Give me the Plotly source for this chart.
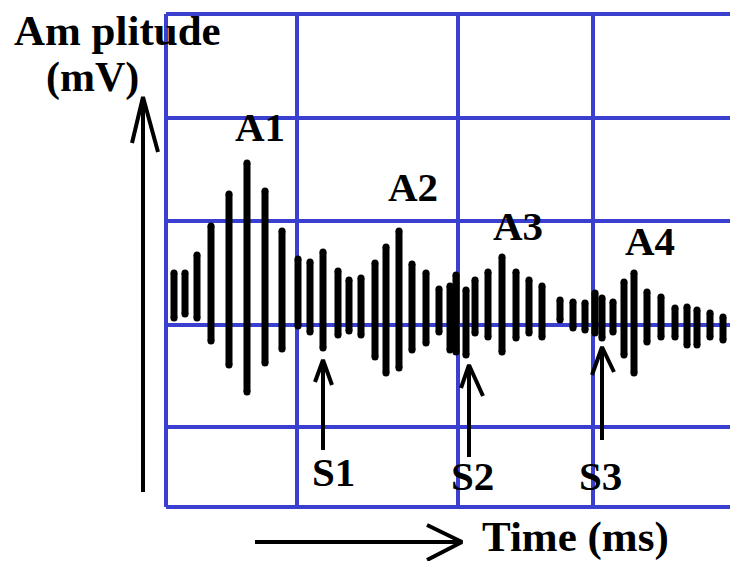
import plotly.graph_objects as go

# ---- data (time in ms, amplitude in mV; arbitrary diagram units) ----
bar_time = [1.6, 3.8, 6.2, 9.0, 12.6, 16.2, 19.8, 23.2, 26.4, 28.8,
            31.4, 34.4, 36.6, 39.0, 41.8, 44.0, 46.6, 49.2, 52.0, 54.6,
            56.8, 58.0, 60.0, 61.8, 64.4, 67.2, 70.0, 72.6, 75.2, 78.8,
            81.4, 83.8, 85.8, 87.2, 89.4, 91.6, 93.6, 96.2, 99.0, 101.8,
            104.2, 106.2, 108.8, 111.4]
bar_top = [10.4, 10.4, 14.0, 19.8, 26.2, 32.4, 26.8, 18.8, 13.2, 12.6,
           14.6, 10.8, 9.0, 9.4, 12.4, 15.6, 18.8, 12.2, 10.4, 7.2,
           7.8, 10.0, 7.0, 9.0, 10.6, 13.6, 10.6, 9.0, 7.8, 5.0,
           4.6, 4.4, 6.4, 5.4, 4.6, 8.6, 10.4, 6.6, 5.6, 3.4,
           3.6, 3.0, 2.4, 1.6]
bar_bottom = [1.4, 2.2, 1.4, -3.2, -8.0, -13.4, -7.6, -4.8, -0.2, -1.4,
              -4.6, -2.0, -1.2, -2.0, -6.4, -9.6, -8.6, -5.0, -3.6, -1.4,
              -5.0, -5.4, -6.0, -1.6, -2.4, -5.4, -2.6, -1.6, -2.4, 1.0,
              -0.6, -1.0, -1.6, -2.6, -1.4, -6.0, -9.6, -3.4, -2.4, -2.4,
              -4.0, -4.0, -2.4, -3.0]

grid_time = [0.0, 26.2, 58.4, 85.4]
grid_amp = [62.2, 41.4, 20.8, 0.0, -20.4, -36.4]
grid_time_end = 113.0

peak_labels = ["A1", "A2", "A3", "A4"]
peak_time = [18.8, 49.4, 70.4, 96.8]
peak_amp = [39.6, 27.6, 19.8, 16.8]

sensor_labels = ["S1", "S2", "S3"]
sensor_label_time = [33.4, 61.2, 86.8]
sensor_label_amp = [-29.4, -30.2, -30.2]

# arrows: tail (t, a), tip (t, a), head-left (t, a), head-right (t, a)
arrow_tail = [(31.4, -25.0), (60.6, -26.4), (87.2, -23.0), (-4.6, -33.4), (17.8, -43.4)]
arrow_tip = [(31.4, -7.0), (60.6, -8.0), (87.2, -4.4), (-4.6, 45.6), (59.2, -43.4)]
arrow_head1 = [(29.8, -11.4), (59.0, -12.6), (85.2, -10.0), (-6.8, 36.4), (52.2, -40.0)]
arrow_head2 = [(33.2, -12.0), (63.4, -14.2), (89.6, -9.4), (-1.6, 34.6), (52.2, -47.0)]

BLUE = "#3b3fd0"
FONT = "Liberation Serif"

fig = go.Figure()

# grid
gx, gy = [], []
for t in grid_time:
    gx += [t, t, None]
    gy += [grid_amp[0], grid_amp[-1], None]
for a in grid_amp:
    gx += [grid_time[0], grid_time_end, None]
    gy += [a, a, None]
fig.add_trace(go.Scatter(x=gx, y=gy, mode="lines",
                         line=dict(color=BLUE, width=4), hoverinfo="skip"))

# signal bars
bx, by = [], []
for t, top, bot in zip(bar_time, bar_top, bar_bottom):
    bx += [t, t, None]
    by += [top, bot, None]
fig.add_trace(go.Scatter(x=bx, y=by, mode="lines",
                         line=dict(color="black", width=7), hoverinfo="skip"))
fig.add_trace(go.Scatter(x=bar_time + bar_time, y=bar_top + bar_bottom, mode="markers",
                         marker=dict(color="black", size=7, line=dict(width=0)),
                         hoverinfo="skip"))

# arrows
ax, ay = [], []
for tail, tip, h1, h2 in zip(arrow_tail, arrow_tip, arrow_head1, arrow_head2):
    ax += [tail[0], tip[0], None, h1[0], tip[0], h2[0], None]
    ay += [tail[1], tip[1], None, h1[1], tip[1], h2[1], None]
fig.add_trace(go.Scatter(x=ax, y=ay, mode="lines",
                         line=dict(color="black", width=4), hoverinfo="skip"))

def label(text, t, a, size=41):
    fig.add_annotation(x=t, y=a, text="<b>" + text + "</b>", showarrow=False,
                       xanchor="center", yanchor="middle",
                       font=dict(family=FONT, size=size, color="black"))

for s, t, a in zip(peak_labels, peak_time, peak_amp):
    label(s, t, a)
for s, t, a in zip(sensor_labels, sensor_label_time, sensor_label_amp):
    label(s, t, a)
label("Am plitude", -9.8, 59.0, 43)
label("(mV)", -14.8, 49.6, 42)
label("Time (ms)", 81.8, -42.4, 43)

fig.update_layout(
    width=730, height=561,
    margin=dict(l=0, r=0, t=0, b=0),
    paper_bgcolor="white", plot_bgcolor="white",
    showlegend=False,
    xaxis=dict(range=[-33.2, 112.8], visible=False, fixedrange=True),
    yaxis=dict(range=[-47.2, 65.0], visible=False, fixedrange=True),
)

fig.write_html(
    "out.html",
    config={"displayModeBar": False, "staticPlot": True},
    post_script="document.body.style.margin='0';document.body.style.overflow='hidden';",
)
